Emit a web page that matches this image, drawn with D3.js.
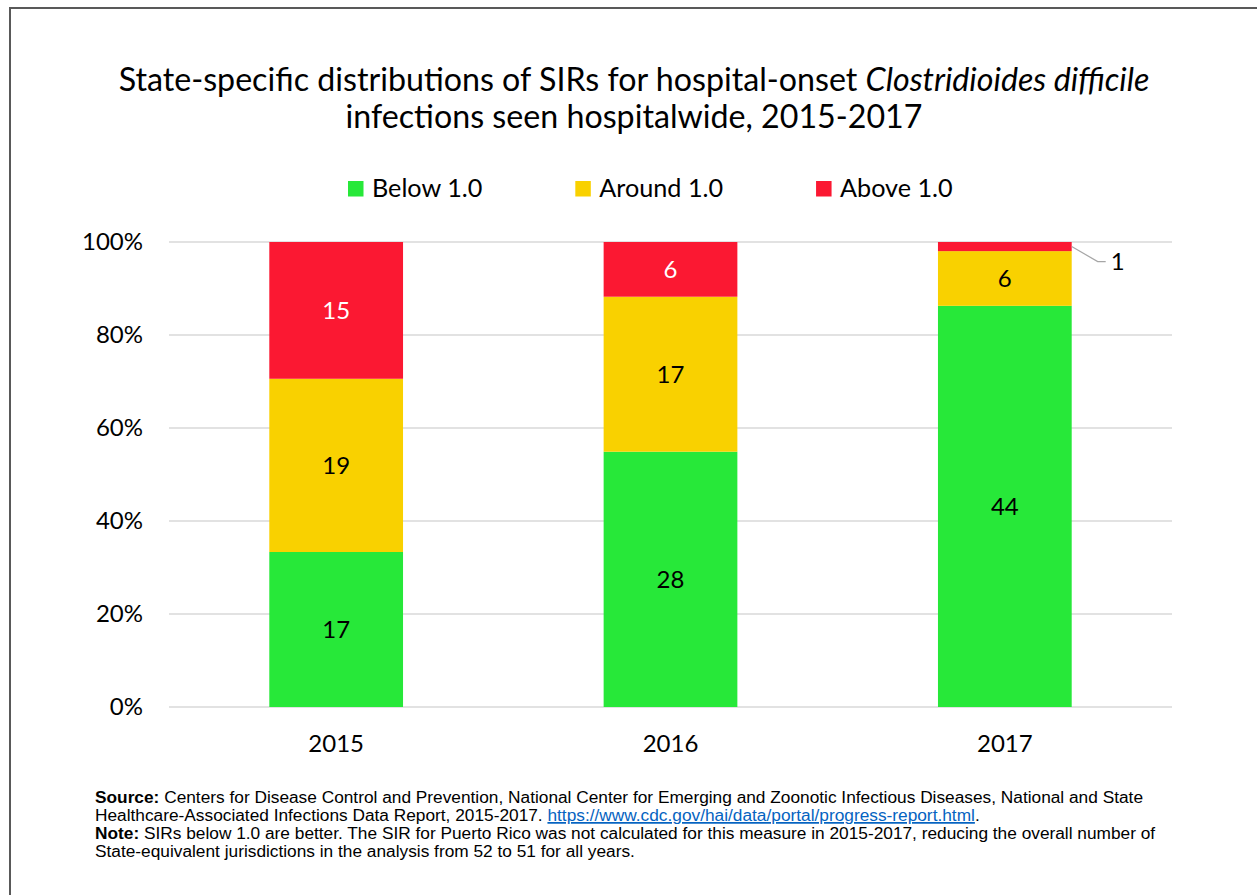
<!DOCTYPE html>
<html>
<head>
<meta charset="utf-8">
<script src="https://cdn.jsdelivr.net/npm/d3@7"></script>
<style>
  body { margin: 0; background: white; }
  svg text { font-family: Lato, "Open Sans", sans-serif; }
</style>
</head>
<body>
<div id="chart"></div>
<script>
// chart data
var years = ["2015", "2016", "2017"];
var seriesNames = ["Below 1.0", "Around 1.0", "Above 1.0"];
var below = [17, 28, 44];
var around = [19, 17, 6];
var above = [15, 6, 1];
var colors = ["#27e839", "#f9d100", "#fb1832"];
var labelColors = ["black", "black", "white"];
var yTicks = [0, 0.2, 0.4, 0.6, 0.8, 1];

var titleLine1 = "State-specific distributions of SIRs for hospital-onset ";
var titleItalic = "Clostridioides difficile";
var titleLine2 = "infections seen hospitalwide, 2015-2017";

var width = 1257, height = 895;
var margin = {top: 242, right: 85, bottom: 188, left: 169};

var svg = d3.select("#chart")
  .append("svg")
    .attr("width", width)
    .attr("height", height);

// frame around the slide
svg.append("rect")
  .attr("x", 10)
  .attr("y", 8)
  .attr("width", width)
  .attr("height", height)
  .attr("fill", "none")
  .attr("stroke", "#595959")
  .attr("stroke-width", 2);

// title
var title = svg.append("text")
  .attr("text-anchor", "middle")
  .attr("font-size", "32.2px")
  .attr("fill", "black");
title.append("tspan")
  .attr("x", 634)
  .attr("y", 91)
  .text(titleLine1)
  .append("tspan")
    .attr("font-style", "italic")
    .text(titleItalic);
title.append("tspan")
  .attr("x", 634)
  .attr("y", 128)
  .text(titleLine2);

// stack the three series, as shares of the total
var rows = years.map(function(y, i) {
  return {year: y, "Below 1.0": below[i], "Around 1.0": around[i], "Above 1.0": above[i]};
});
var stacked = d3.stack()
  .keys(seriesNames)
  .offset(d3.stackOffsetExpand)(rows);

var xScale = d3.scaleBand()
  .domain(years)
  .range([margin.left, width - margin.right])
  .paddingInner(0.6)
  .paddingOuter(0.3);

var yScale = d3.scaleLinear()
  .domain([0, 1])
  .range([height - margin.bottom, margin.top]);

// gridlines
svg.append("g")
  .selectAll("line")
  .data(yTicks)
  .enter()
  .append("line")
    .attr("x1", margin.left)
    .attr("x2", width - margin.right)
    .attr("y1", (d) => yScale(d))
    .attr("y2", (d) => yScale(d))
    .attr("stroke", "#d9d9d9")
    .attr("stroke-width", 1.5);

// y axis labels
var yAxis = d3.axisLeft(yScale)
  .tickValues(yTicks)
  .tickFormat(d3.format(".0%"))
  .tickSize(0)
  .tickPadding(26);
svg.append("g")
  .attr("transform", "translate(" + margin.left + ",0)")
  .call(yAxis)
  .call((g) => g.select(".domain").remove())
  .selectAll("text")
    .attr("font-family", "Lato, sans-serif")
    .attr("font-size", "24px")
    .attr("fill", "black");

// x axis labels
var xAxis = d3.axisBottom(xScale)
  .tickSize(0)
  .tickPadding(28);
svg.append("g")
  .attr("transform", "translate(0," + (height - margin.bottom) + ")")
  .call(xAxis)
  .call((g) => g.select(".domain").remove())
  .selectAll("text")
    .attr("font-family", "Lato, sans-serif")
    .attr("font-size", "24px")
    .attr("fill", "black");

// bars
var layers = svg.append("g")
  .selectAll("g")
  .data(stacked)
  .enter()
  .append("g")
    .attr("fill", (d, i) => colors[i]);

layers.selectAll("rect")
  .data((d) => d)
  .enter()
  .append("rect")
    .attr("x", (d) => xScale(d.data.year))
    .attr("y", (d) => yScale(d[1]))
    .attr("width", xScale.bandwidth())
    .attr("height", (d) => yScale(d[0]) - yScale(d[1]));

// value labels, small segments get a leader line to the right
stacked.forEach(function(layer, i) {
  layer.forEach(function(d) {
    var v = d.data[layer.key];
    var x0 = xScale(d.data.year);
    var yTop = yScale(d[1]), yBot = yScale(d[0]);
    if (yBot - yTop > 30) {
      svg.append("text")
        .attr("x", x0 + xScale.bandwidth() / 2)
        .attr("y", (yTop + yBot) / 2)
        .attr("dy", "0.35em")
        .attr("text-anchor", "middle")
        .attr("font-size", "24px")
        .attr("fill", labelColors[i])
        .text(v);
    } else {
      var xr = x0 + xScale.bandwidth();
      var ym = (yTop + yBot) / 2;
      svg.append("polyline")
        .attr("points", [[xr, ym], [xr + 26, ym + 15], [xr + 34, ym + 15]].join(" "))
        .attr("fill", "none")
        .attr("stroke", "#a6a6a6")
        .attr("stroke-width", 1.2);
      svg.append("text")
        .attr("x", xr + 39)
        .attr("y", ym + 15)
        .attr("dy", "0.35em")
        .attr("font-size", "24px")
        .attr("fill", "black")
        .text(v);
    }
  });
});

// legend
var legend = svg.append("g");
var lx = 348;
seriesNames.forEach(function(name, i) {
  legend.append("rect")
    .attr("x", lx)
    .attr("y", 181)
    .attr("width", 15.5)
    .attr("height", 15.5)
    .attr("fill", colors[i]);
  var t = legend.append("text")
    .attr("x", lx + 24)
    .attr("y", 197)
    .attr("font-size", "25.2px")
    .attr("fill", "black")
    .text(name);
  lx = lx + 24 + t.node().getComputedTextLength() + 93;
});

// footnote
var note = svg.append("g")
  .attr("font-size", "17.3px");
var lines = [
  [["Source: ", "bold"], ["Centers for Disease Control and Prevention, National Center for Emerging and Zoonotic Infectious Diseases, National and State", ""]],
  [["Healthcare-Associated Infections Data Report, 2015-2017. ", ""], ["https://www.cdc.gov/hai/data/portal/progress-report.html", "link"], [".", ""]],
  [["Note: ", "bold"], ["SIRs below 1.0 are better. The SIR for Puerto Rico was not calculated for this measure in 2015-2017, reducing the overall number of", ""]],
  [["State-equivalent jurisdictions in the analysis from 52 to 51 for all years.", ""]]
];
lines.forEach(function(parts, i) {
  var t = note.append("text")
    .attr("x", 95)
    .attr("y", 803 + i * 18)
    .style("font-family", "'Liberation Sans', Arial, sans-serif")
    .attr("fill", "black");
  parts.forEach(function(p) {
    var s = t.append("tspan").text(p[0]);
    if (p[1] == "bold") s.attr("font-weight", "bold");
    if (p[1] == "link") s.attr("fill", "#0563c1").attr("text-decoration", "underline");
  });
});
</script>
</body>
</html>
